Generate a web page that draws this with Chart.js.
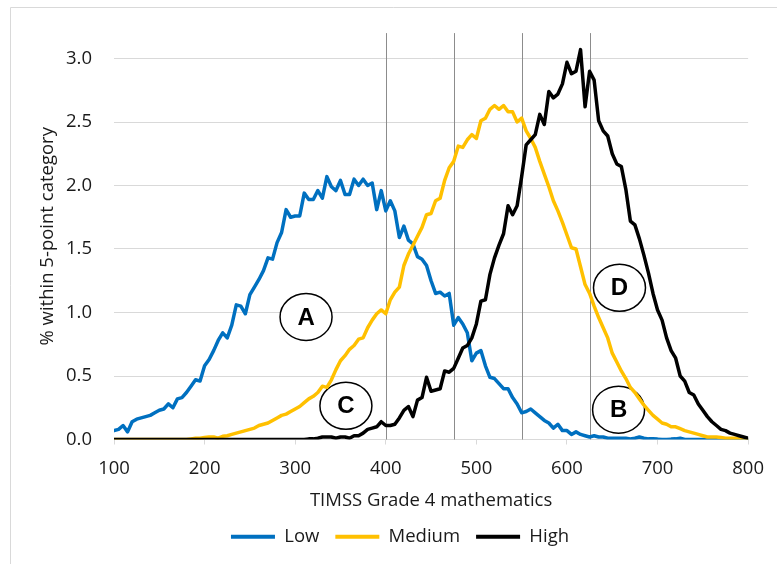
<!DOCTYPE html>
<html>
<head>
<meta charset="utf-8">
<script src="https://cdn.jsdelivr.net/npm/chart.js@4.4.1/dist/chart.umd.min.js"></script>
<style>
  body { margin: 0; background: #fff; }
  #wrap { width: 777px; height: 564px; }
</style>
</head>
<body>
<div id="wrap"><canvas id="timss-chart" width="777" height="564"></canvas></div>
<script>
// TIMSS score points, 5-point categories
const scores = [
  100, 105, 110, 115, 120, 125, 130, 135, 140, 145,
  150, 155, 160, 165, 170, 175, 180, 185, 190, 195,
  200, 205, 210, 215, 220, 225, 230, 235, 240, 245,
  250, 255, 260, 265, 270, 275, 280, 285, 290, 295,
  300, 305, 310, 315, 320, 325, 330, 335, 340, 345,
  350, 355, 360, 365, 370, 375, 380, 385, 390, 395,
  400, 405, 410, 415, 420, 425, 430, 435, 440, 445,
  450, 455, 460, 465, 470, 475, 480, 485, 490, 495,
  500, 505, 510, 515, 520, 525, 530, 535, 540, 545,
  550, 555, 560, 565, 570, 575, 580, 585, 590, 595,
  600, 605, 610, 615, 620, 625, 630, 635, 640, 645,
  650, 655, 660, 665, 670, 675, 680, 685, 690, 695,
  700, 705, 710, 715, 720, 725, 730, 735, 740, 745,
  750, 755, 760, 765, 770, 775, 780, 785, 790, 795,
  800
];

const lowValues = [
  0.07, 0.08, 0.11, 0.06, 0.14, 0.16, 0.17, 0.18, 0.19, 0.21,
  0.23, 0.24, 0.28, 0.25, 0.32, 0.33, 0.37, 0.42, 0.47, 0.46,
  0.58, 0.63, 0.70, 0.78, 0.84, 0.80, 0.90, 1.06, 1.05, 0.99,
  1.14, 1.20, 1.26, 1.33, 1.43, 1.42, 1.55, 1.63, 1.81, 1.75,
  1.76, 1.76, 1.94, 1.89, 1.89, 1.96, 1.90, 2.07, 1.99, 1.96,
  2.04, 1.93, 1.93, 2.05, 2.00, 2.05, 2.00, 2.02, 1.81, 1.96,
  1.80, 1.88, 1.80, 1.59, 1.68, 1.57, 1.54, 1.44, 1.42, 1.37,
  1.25, 1.15, 1.16, 1.13, 1.15, 0.90, 0.96, 0.91, 0.84, 0.62,
  0.68, 0.70, 0.58, 0.49, 0.48, 0.44, 0.40, 0.40, 0.33, 0.28,
  0.21, 0.22, 0.24, 0.21, 0.18, 0.15, 0.13, 0.09, 0.12, 0.07,
  0.07, 0.04, 0.06, 0.04, 0.03, 0.02, 0.03, 0.02, 0.02, 0.01,
  0.01, 0.01, 0.01, 0.01, 0.005, 0.01, 0.02, 0.01, 0.005, 0.005,
  0.003, 0, 0, 0.003, 0.005, 0.01, 0, 0, 0, 0,
  0, 0, 0, 0, 0, 0, 0, 0, 0, 0,
  0
];

const mediumValues = [
  0, 0, 0, 0, 0, 0, 0, 0, 0, 0,
  0, 0, 0, 0, 0, 0, 0, 0.005, 0.01, 0.01,
  0.015, 0.02, 0.02, 0.01, 0.025, 0.03, 0.04, 0.05, 0.06, 0.07,
  0.08, 0.09, 0.11, 0.12, 0.13, 0.15, 0.17, 0.19, 0.20, 0.22,
  0.24, 0.26, 0.29, 0.32, 0.34, 0.37, 0.42, 0.41, 0.47, 0.55,
  0.62, 0.66, 0.71, 0.74, 0.79, 0.80, 0.88, 0.94, 0.99, 1.02,
  0.99, 1.10, 1.16, 1.20, 1.37, 1.46, 1.53, 1.60, 1.67, 1.77,
  1.78, 1.88, 1.90, 2.04, 2.14, 2.19, 2.31, 2.30, 2.36, 2.40,
  2.37, 2.51, 2.53, 2.60, 2.63, 2.60, 2.63, 2.58, 2.58, 2.50,
  2.53, 2.43, 2.37, 2.30, 2.19, 2.09, 1.99, 1.88, 1.80, 1.71,
  1.61, 1.51, 1.50, 1.36, 1.22, 1.15, 1.05, 0.96, 0.88, 0.80,
  0.68, 0.61, 0.54, 0.48, 0.41, 0.37, 0.32, 0.27, 0.23, 0.19,
  0.16, 0.13, 0.12, 0.10, 0.10, 0.085, 0.07, 0.06, 0.05, 0.04,
  0.03, 0.02, 0.02, 0.02, 0.015, 0.01, 0.01, 0.01, 0.005, 0,
  0
];

const highValues = [
  0, 0, 0, 0, 0, 0, 0, 0, 0, 0,
  0, 0, 0, 0, 0, 0, 0, 0, 0, 0,
  0, 0, 0, 0, 0, 0, 0, 0, 0, 0,
  0, 0, 0, 0, 0, 0, 0, 0, 0, 0,
  0, 0, 0, 0.005, 0.005, 0.01, 0.02, 0.02, 0.02, 0.01,
  0.02, 0.02, 0.01, 0.03, 0.03, 0.05, 0.08, 0.09, 0.10, 0.14,
  0.11, 0.11, 0.12, 0.17, 0.23, 0.26, 0.18, 0.31, 0.33, 0.49,
  0.38, 0.39, 0.40, 0.54, 0.53, 0.56, 0.64, 0.72, 0.74, 0.80,
  0.91, 1.09, 1.10, 1.30, 1.43, 1.53, 1.62, 1.84, 1.77, 1.84,
  2.07, 2.32, 2.36, 2.40, 2.56, 2.48, 2.74, 2.69, 2.72, 2.80,
  2.97, 2.88, 2.90, 3.07, 2.62, 2.90, 2.83, 2.51, 2.43, 2.39,
  2.25, 2.17, 2.15, 1.97, 1.72, 1.69, 1.58, 1.45, 1.31, 1.15,
  1.02, 0.94, 0.80, 0.70, 0.64, 0.50, 0.46, 0.37, 0.35, 0.28,
  0.23, 0.18, 0.14, 0.11, 0.08, 0.07, 0.05, 0.04, 0.03, 0.02,
  0.01
];

const seriesNames = ["Low", "Medium", "High"];
const seriesColors = ["#0070C0", "#FFC000", "#000000"];

// benchmark cut scores (vertical reference lines)
const cutScores = [400, 475, 550, 625];

// circled region letters, placed in data units
const regionLetters = ["A", "B", "C", "D"];
const regionScore = [312, 657, 356, 658];
const regionPercent = [0.965, 0.235, 0.266, 1.195];

const yTicks = [0, 0.5, 1.0, 1.5, 2.0, 2.5, 3.0];

const toPoints = (vals) => scores.map((s, i) => ({x: s, y: vals[i]}));

Chart.defaults.font.family = "'Open Sans', sans-serif";
Chart.defaults.font.size = 18.5;
Chart.defaults.color = "#1a1a1a";

//Frame around the chart (left and top edges)
const framePlugin = {
  id: "framePlugin",
  beforeDraw: (chart) => {
    const {ctx} = chart;
    ctx.save();
    ctx.strokeStyle = "#d9d9d9";
    ctx.lineWidth = 1;
    ctx.beginPath();
    ctx.moveTo(10.5, chart.height);
    ctx.lineTo(10.5, 7.5);
    ctx.lineTo(chart.width, 7.5);
    ctx.stroke();
    ctx.restore();
  }
};

//Cut score lines and circled letters
const markersPlugin = {
  id: "markersPlugin",
  beforeDatasetsDraw: (chart) => {
    const {ctx, chartArea, scales: {x, y}} = chart;
    ctx.save();
    ctx.strokeStyle = "#8c8c8c";
    ctx.lineWidth = 1;
    cutScores.forEach((score) => {
      const px = Math.round(x.getPixelForValue(score)) + 0.5;
      ctx.beginPath();
      ctx.moveTo(px, y.getPixelForValue(0));
      ctx.lineTo(px, chartArea.top);
      ctx.stroke();
    });

    regionLetters.forEach((letter, i) => {
      const cx = x.getPixelForValue(regionScore[i]);
      const cy = y.getPixelForValue(regionPercent[i]);
      ctx.beginPath();
      ctx.ellipse(cx, cy, 26, 23.5, 0, 0, Math.PI * 2);
      ctx.fillStyle = "#ffffff";
      ctx.fill();
      ctx.strokeStyle = "#000000";
      ctx.lineWidth = 1.5;
      ctx.stroke();
      ctx.fillStyle = "#000000";
      ctx.font = "bold 24px 'Liberation Sans', Arial, sans-serif";
      ctx.textAlign = "center";
      ctx.textBaseline = "middle";
      ctx.fillText(letter, cx, cy + 1);
    });
    ctx.restore();
  }
};

const chartCanvas = document.getElementById("timss-chart");

new Chart(chartCanvas, {
  type: "line",
  data: {
    datasets: [
      {
        label: seriesNames[0],
        data: toPoints(lowValues),
        borderColor: seriesColors[0],
        backgroundColor: seriesColors[0],
        pointBorderWidth: 4,
        order: 2,
      },
      {
        label: seriesNames[1],
        data: toPoints(mediumValues),
        borderColor: seriesColors[1],
        backgroundColor: seriesColors[1],
        pointBorderWidth: 4,
        order: 1,
      },
      {
        label: seriesNames[2],
        data: toPoints(highValues),
        borderColor: seriesColors[2],
        backgroundColor: seriesColors[2],
        pointBorderWidth: 4,
        order: 0,
      }
    ]
  },
  plugins: [framePlugin, markersPlugin],
  options: {
    responsive: false,
    animation: false,
    events: [],
    elements: {
      line: { borderWidth: 3.5, tension: 0, borderJoinStyle: "round", borderCapStyle: "round" },
      point: { radius: 0 }
    },
    layout: {
      padding: { left: 50, top: 31, right: 27, bottom: 8 }
    },
    scales: {
      x: {
        type: "linear",
        min: 100,
        max: 800,
        ticks: { stepSize: 100, padding: 13, maxRotation: 0 },
        grid: {
          drawOnChartArea: false,
          drawTicks: true,
          tickLength: 5,
          color: "#d9d9d9",
        },
        border: { color: "#d9d9d9" },
        title: {
          display: true,
          text: "TIMSS Grade 4 mathematics",
          font: { size: 18.5 },
          padding: { top: 0, bottom: 0 },
        },
        afterFit: (scale) => { scale.height = 72; }
      },
      y: {
        min: 0,
        max: 3.2,
        afterBuildTicks: (axis) => {
          axis.ticks = yTicks.map((v) => ({value: v}));
        },
        ticks: {
          padding: 22,
          callback: (value) => Number(value).toFixed(1),
        },
        grid: { color: "#d9d9d9", drawTicks: false },
        border: { display: false },
        title: {
          display: true,
          text: "% within 5-point category",
          font: { size: 18.5 },
          padding: { top: -13, bottom: 0 },
        },
        afterFit: (scale) => { scale.width = 64; }
      }
    },
    plugins: {
      legend: {
        position: "bottom",
        labels: {
          usePointStyle: true,
          pointStyle: "line",
          pointStyleWidth: 44,
          padding: 16,
          font: { size: 18.5 },
          sort: (a, b) => a.datasetIndex - b.datasetIndex,
        }
      },
      tooltip: { enabled: false }
    }
  }
});
</script>
</body>
</html>
